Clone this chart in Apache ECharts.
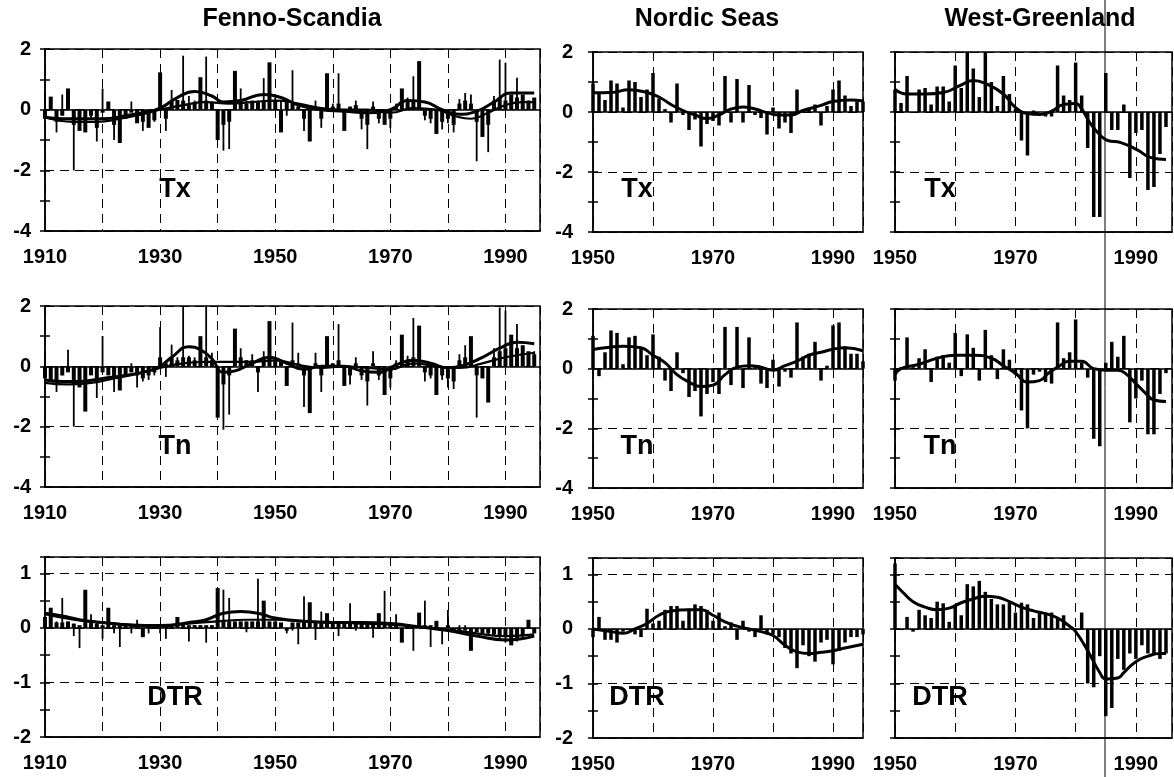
<!DOCTYPE html>
<html>
<head>
<meta charset="utf-8">
<script src="https://cdn.jsdelivr.net/npm/echarts@6/dist/echarts.min.js"></script>
<style>
  html, body { margin: 0; padding: 0; background: #fff; }
  #chart { width: 1174px; height: 777px; }
</style>
</head>
<body>
<div id="chart"></div>
<script>
// years on the x axes
const fennoYears = [];
for (let y = 1910; y <= 1995; y++) fennoYears.push(y);
const seaYears = [];
for (let y = 1950; y <= 1995; y++) seaYears.push(y);

// Fenno-Scandia, two overlaid bar series (thick / thin), 1910-1995
const fennoTxThick = [-0.3,0.43,-0.4,-0.2,0.7,-0.5,-0.7,-0.75,-0.2,-0.6,
  -0.1,0.27,-0.5,-1.1,-0.3,-0.1,-0.45,-0.4,-0.6,-0.35,
  1.23,-0.3,0.3,0.32,0.3,0.2,0.25,1.07,0.3,0.25,
  -1.0,-0.5,-0.4,1.28,0.3,0.2,0.3,0.25,0.3,1.56,
  0.3,-0.75,0.25,0.2,0.1,-0.3,-1.05,0.1,-0.3,1.2,
  0.1,0.2,-0.7,0.1,0.15,-0.3,-0.5,0.1,-0.3,-0.5,
  -0.3,0.1,0.7,0.25,0.3,1.6,-0.2,-0.3,-0.8,-0.4,
  -0.3,-0.5,0.2,0.3,0.2,-0.4,-0.9,-0.5,0.3,0.4,
  0.3,0.5,0.4,0.5,0.3,0.4];
const fennoTxThin = [0.57,0.4,-0.75,0.5,0.3,-2.0,-0.5,-0.4,-0.3,-1.05,
  0.7,0.15,-1.0,-0.6,-0.3,0.27,-0.3,-0.7,-0.55,-0.4,
  0.6,-0.7,0.65,0.2,1.78,0.45,0.3,0.5,1.75,0.2,
  -1.0,-1.35,-1.3,0.5,0.7,0.3,0.25,0.3,1.04,0.6,
  0.4,0.3,-0.2,1.3,0.2,-0.7,-0.5,0.3,-0.6,0.5,
  0.2,1.2,-0.3,0.1,0.3,-0.65,-1.3,0.27,-0.45,-0.3,
  -0.6,0.2,0.4,0.4,1.1,0.6,-0.35,-0.45,-0.4,-0.65,
  -0.45,-0.75,0.35,0.55,0.5,-1.7,-0.5,-1.4,0.45,1.65,
  1.55,0.4,1.05,0.3,0.3,0.2];
const fennoTnThick = [-0.4,-0.5,-0.5,-0.3,-0.2,-0.6,-0.7,-1.5,-0.3,-0.5,
  -0.2,-0.3,-0.4,-0.8,-0.3,-0.2,-0.3,-0.4,-0.3,-0.2,
  0.3,0.1,0.3,0.2,0.3,0.3,0.2,1.0,0.3,0.2,
  -1.7,-0.6,-0.3,1.25,0.3,0.2,0.2,-0.2,0.3,1.5,
  0.2,0.15,-0.65,0.2,0.1,-0.3,-1.55,0.1,-0.3,1.0,
  0.1,0.2,-0.65,-0.3,0.1,-0.3,-0.5,0.1,-0.3,-0.95,
  -0.4,0.1,1.05,0.2,0.3,1.35,-0.2,-0.3,-0.95,-0.3,
  -0.4,-0.5,0.2,0.3,1.0,-0.3,-0.4,-1.2,0.3,0.5,
  0.6,1.05,0.6,0.7,0.5,0.4];
const fennoTnThin = [0.35,-0.3,-0.85,-0.3,0.55,-2.0,-0.3,-0.6,-0.25,-1.05,
  1.0,-0.15,-0.85,-0.4,-0.2,0.1,-0.7,-0.5,-0.45,-0.3,
  1.3,-0.35,0.72,0.3,2.0,0.35,0.3,0.4,2.0,0.45,
  -0.8,-2.1,-1.6,0.4,0.6,0.2,0.4,-0.85,0.5,0.4,
  0.3,0.2,-0.3,1.45,0.45,-1.35,-0.5,0.45,-0.85,0.3,
  0.1,1.4,-0.3,-0.6,0.3,-0.45,-1.3,0.5,-0.45,-0.4,
  -0.7,0.2,0.4,0.35,1.6,0.5,-0.5,-0.4,-0.5,-0.45,
  -0.7,-0.75,0.4,0.7,0.5,-1.7,-0.3,-0.5,0.6,1.95,
  1.85,0.5,1.4,0.5,0.3,0.5];
const fennoDtrThick = [0.2,0.37,0.1,0.1,0.12,0.08,0.05,0.7,0.1,0.08,
  0.05,0.37,0.05,0.05,0.05,0.03,0.05,-0.17,0.05,0.03,
  0.05,0.03,0.05,0.2,0.05,0.05,0.05,0.05,0.05,0.05,
  0.73,0.15,0.12,0.12,0.12,0.12,0.12,0.12,0.5,0.12,
  0.12,0.1,-0.05,0.1,0.1,0.1,0.47,0.1,0.1,0.27,
  0.1,0.1,0.1,0.1,0.1,0.1,0.1,0.1,0.27,0.1,
  0.1,0.05,-0.27,0.05,0.05,0.28,0.05,0.05,0.13,0.0,
  0.05,-0.05,-0.05,-0.05,-0.42,-0.08,-0.1,-0.1,-0.12,-0.15,
  -0.15,-0.32,-0.2,-0.15,0.15,-0.1];
const fennoDtrThin = [0.3,0.12,0.12,0.55,0.1,-0.15,-0.37,0.15,0.25,0.1,
  -0.2,0.1,-0.1,-0.35,0.05,-0.1,0.15,-0.05,-0.1,0.05,
  -0.1,-0.2,0.05,0.05,0.05,-0.25,0.05,0.05,-0.27,0.05,
  0.3,0.7,0.55,0.1,0.05,-0.08,0.1,0.9,0.15,0.1,
  0.1,0.05,-0.1,-0.05,-0.3,0.58,0.1,-0.22,0.3,0.1,
  0.1,-0.15,0.1,0.45,-0.05,0.05,0.05,-0.18,0.1,0.68,
  0.05,0.25,-0.1,0.05,-0.42,0.1,0.5,-0.35,0.05,-0.3,
  0.33,-0.05,0.05,0.05,-0.15,-0.05,-0.1,-0.12,-0.15,-0.2,
  -0.27,-0.15,-0.25,-0.2,0.05,-0.05];

// Nordic Seas, 1950-1995
const nordicTx = [0.95,0.6,0.4,1.05,0.95,0.15,1.05,1.0,0.5,0.75,
  1.3,0.45,0.1,-0.35,0.95,-0.1,-0.6,-0.25,-1.15,-0.4,
  -0.3,-0.45,1.2,-0.35,1.1,-0.35,0.9,-0.1,-0.2,-0.75,
  0.15,-0.55,-0.35,-0.7,0.75,0.02,0.1,0.25,-0.45,0.2,
  0.75,1.05,0.55,0.2,0.35,0.35];
const nordicTn = [1.1,-0.25,0.55,1.28,1.2,0.15,1.05,1.1,0.7,0.45,
  1.15,0.4,-0.4,-0.75,0.55,-0.15,-0.95,-0.75,-1.6,-0.85,
  -0.45,-0.85,1.4,-0.55,1.4,-0.65,1.05,0.05,-0.5,-0.65,
  0.3,-0.6,-0.1,-0.3,1.55,0.4,0.5,0.9,-0.4,0.1,
  1.45,1.55,0.75,0.5,0.5,0.25];
const nordicDtr = [-0.15,0.22,-0.2,-0.2,-0.25,-0.05,-0.02,-0.1,-0.15,0.37,
  0.1,0.15,0.35,0.42,0.42,0.15,0.37,0.45,0.42,0.35,
  0.15,0.3,0.05,0.12,-0.2,0.15,-0.05,-0.15,0.25,-0.1,
  -0.1,-0.15,-0.35,-0.45,-0.72,-0.3,-0.5,-0.6,-0.25,-0.2,
  -0.65,-0.4,-0.25,-0.15,-0.15,-0.1];

// West-Greenland, 1950-1995
const greenTx = [0.75,0.3,1.2,0.0,0.75,0.8,0.25,0.85,0.85,0.35,
  1.55,0.8,2.0,1.45,0.5,2.0,1.0,0.2,1.2,0.6,
  0.1,-0.95,-1.45,0.05,0.0,-0.15,-0.15,1.55,0.55,0.4,
  1.65,0.55,-1.2,-3.5,-3.5,1.3,-0.6,-0.6,0.25,-2.2,
  -0.7,-0.6,-2.6,-2.5,-1.4,-0.5];
const greenTn = [-0.4,0.05,1.05,0.05,0.35,0.65,-0.45,0.4,0.45,0.2,
  1.2,-0.25,1.15,0.7,-0.4,1.3,0.45,-0.35,0.65,0.3,
  -0.2,-1.4,-2.0,-0.2,-0.1,-0.45,-0.5,1.55,0.35,0.55,
  1.65,0.2,-0.3,-2.35,-2.6,0.2,0.9,0.4,1.1,-1.8,
  -1.0,-0.4,-2.2,-2.2,-0.85,-0.15];
const greenDtr = [1.2,0.0,0.22,-0.05,0.35,0.25,0.2,0.5,0.47,0.13,
  0.42,0.25,0.82,0.78,0.88,0.68,0.55,0.45,0.45,0.48,
  0.3,0.48,0.45,0.2,0.32,0.3,0.3,0.2,0.25,0.0,
  -0.02,0.3,-1.0,-1.07,-0.5,-1.6,-1.45,-0.55,-0.75,-0.45,
  -0.55,-0.3,-0.45,-0.45,-0.55,-0.45];

// smoothed curves [year, value]
const fennoTxCurveA = [[1910,-0.25],[1913,-0.3],[1916,-0.3],[1920,-0.3],[1924,-0.2],[1927,-0.1],[1930,0.05],[1933,0.4],[1936,0.6],[1939,0.45],[1941,0.25],[1944,0.3],[1948,0.5],[1951,0.4],[1954,0.15],[1958,0.0],[1962,-0.05],[1966,-0.1],[1970,0.0],[1973,0.3],[1976,0.25],[1979,0.0],[1982,-0.15],[1985,-0.05],[1988,0.25],[1991,0.55],[1995,0.55]];
const fennoTxCurveB = [[1910,-0.25],[1915,-0.4],[1919,-0.4],[1923,-0.3],[1927,-0.15],[1930,0.0],[1934,0.15],[1938,0.25],[1942,0.2],[1946,0.25],[1950,0.3],[1954,0.2],[1958,0.05],[1962,0.0],[1966,0.0],[1970,-0.1],[1974,0.05],[1978,0.0],[1981,-0.2],[1984,-0.3],[1987,-0.1],[1990,0.15],[1993,0.25],[1995,0.25]];
const fennoTnCurveA = [[1910,-0.45],[1913,-0.5],[1916,-0.5],[1920,-0.4],[1924,-0.3],[1928,-0.15],[1930,0.0],[1932,0.3],[1935,0.65],[1937,0.55],[1939,0.25],[1941,-0.2],[1943,-0.15],[1946,0.1],[1949,0.3],[1952,0.1],[1955,-0.1],[1958,0.0],[1962,0.0],[1965,-0.15],[1968,-0.2],[1971,0.05],[1974,0.2],[1977,0.1],[1980,-0.05],[1983,0.05],[1986,0.3],[1989,0.6],[1992,0.8],[1995,0.75]];
const fennoTnCurveB = [[1910,-0.55],[1914,-0.6],[1918,-0.55],[1922,-0.4],[1926,-0.25],[1930,-0.05],[1934,0.1],[1938,0.15],[1942,0.15],[1946,0.15],[1950,0.2],[1954,0.05],[1958,-0.05],[1962,0.0],[1966,-0.05],[1970,-0.1],[1974,0.1],[1978,0.0],[1982,-0.05],[1986,0.1],[1990,0.3],[1995,0.45]];
const fennoDtrCurveA = [[1910,0.27],[1913,0.22],[1916,0.15],[1920,0.1],[1925,0.05],[1930,0.03],[1935,0.1],[1938,0.15],[1941,0.27],[1944,0.3],[1947,0.27],[1950,0.18],[1955,0.12],[1960,0.1],[1965,0.1],[1970,0.08],[1975,0.02],[1980,-0.05],[1985,-0.15],[1990,-0.22],[1995,-0.15]];
const fennoDtrCurveB = [[1910,0.25],[1915,0.15],[1920,0.1],[1925,0.06],[1930,0.05],[1935,0.08],[1940,0.12],[1945,0.15],[1950,0.15],[1955,0.12],[1960,0.1],[1965,0.08],[1970,0.06],[1975,0.02],[1980,-0.03],[1985,-0.1],[1990,-0.15],[1995,-0.12]];
const nordicTxCurve = [[1950,0.64],[1953,0.65],[1956,0.74],[1959,0.65],[1961,0.5],[1963,0.25],[1965,0.05],[1967,-0.1],[1969,-0.22],[1971,-0.1],[1973,0.1],[1975,0.17],[1977,0.1],[1979,-0.02],[1981,-0.1],[1983,-0.1],[1985,0.05],[1988,0.22],[1990,0.35],[1993,0.4],[1995,0.37]];
const nordicTnCurve = [[1950,0.64],[1952,0.7],[1955,0.75],[1958,0.7],[1960,0.45],[1962,0.2],[1964,-0.2],[1966,-0.45],[1968,-0.6],[1970,-0.55],[1972,-0.2],[1974,0.05],[1976,0.1],[1978,0.05],[1980,-0.05],[1982,0.1],[1984,0.25],[1986,0.45],[1988,0.55],[1990,0.65],[1992,0.7],[1995,0.6]];
const nordicDtrCurve = [[1950,0.0],[1953,-0.05],[1955,-0.08],[1957,0.0],[1959,0.1],[1961,0.25],[1963,0.33],[1966,0.35],[1968,0.35],[1970,0.25],[1972,0.13],[1974,0.05],[1976,0.0],[1978,-0.05],[1980,-0.12],[1982,-0.3],[1984,-0.42],[1986,-0.45],[1988,-0.43],[1990,-0.4],[1992,-0.35],[1995,-0.28]];
const greenTxCurve = [[1950,0.75],[1952,0.6],[1955,0.6],[1958,0.65],[1961,0.9],[1963,1.05],[1965,0.95],[1968,0.6],[1970,0.15],[1972,-0.05],[1974,-0.08],[1976,0.03],[1978,0.25],[1980,0.28],[1981,0.1],[1982.5,-0.4],[1984.2,-0.8],[1985.3,-0.95],[1987.5,-1.02],[1990.3,-1.27],[1992.5,-1.52],[1995,-1.58]];
const greenTnCurve = [[1950,-0.2],[1951,0.0],[1954,0.15],[1957,0.35],[1960,0.45],[1963,0.45],[1966,0.35],[1968,0.1],[1970,-0.15],[1972,-0.45],[1974,-0.4],[1975.5,-0.15],[1977,0.05],[1979,0.25],[1981,0.25],[1983,0.0],[1985,-0.05],[1987,-0.05],[1988.5,-0.2],[1990,-0.5],[1991.5,-0.8],[1993,-1.05],[1995,-1.1]];
const greenDtrCurve = [[1950,0.82],[1951.5,0.65],[1953,0.5],[1955,0.4],[1957,0.35],[1959,0.38],[1961,0.48],[1963,0.55],[1965,0.6],[1967,0.58],[1969,0.5],[1971,0.4],[1973,0.33],[1975,0.28],[1977,0.2],[1979,0.05],[1980,-0.05],[1982,-0.4],[1984,-0.8],[1985,-0.92],[1987,-0.9],[1988,-0.8],[1990,-0.6],[1992,-0.5],[1994,-0.45],[1995,-0.45]];

const columnTitles = ['Fenno-Scandia', 'Nordic Seas', 'West-Greenland'];
const rowNames = ['Tx', 'Tn', 'DTR'];

// layout (pixels)
const FONT = '"Liberation Sans", Arial, Helvetica, sans-serif';
const colLeft = [45, 593, 895];
const colWidth = [495, 270, 277];
const rowTop = [[49, 306, 557], [52, 309, 558], [52, 309, 558]];
const rowHeight = [[182, 181, 180], [180, 179, 180], [180, 179, 180]];
const xRange = [[1910, 1996], [1950, 1995], [1950, 1996]];
const yRange = [[-4, 2, 2], [-4, 2, 2], [-2, 1.3, 1]];
const titleX = [292, 707, 1040];
const nameX = [175, 637, 940];
const nameY = [190, 447, 698];

const pair = (years, vals) => years.map((y, i) => [y, vals[i]]);

const panels = [
  { col: 0, row: 0, years: fennoYears, bars: [fennoTxThick, fennoTxThin], curves: [fennoTxCurveA, fennoTxCurveB] },
  { col: 0, row: 1, years: fennoYears, bars: [fennoTnThick, fennoTnThin], curves: [fennoTnCurveA, fennoTnCurveB] },
  { col: 0, row: 2, years: fennoYears, bars: [fennoDtrThick, fennoDtrThin], curves: [fennoDtrCurveA, fennoDtrCurveB] },
  { col: 1, row: 0, years: seaYears, bars: [nordicTx], curves: [nordicTxCurve] },
  { col: 1, row: 1, years: seaYears, bars: [nordicTn], curves: [nordicTnCurve] },
  { col: 1, row: 2, years: seaYears, bars: [nordicDtr], curves: [nordicDtrCurve] },
  { col: 2, row: 0, years: seaYears, bars: [greenTx], curves: [greenTxCurve] },
  { col: 2, row: 1, years: seaYears, bars: [greenTn], curves: [greenTnCurve] },
  { col: 2, row: 2, years: seaYears, bars: [greenDtr], curves: [greenDtrCurve] }
];

const labelFont = { color: '#000', fontFamily: FONT, fontWeight: 'bold', fontSize: 20 };
const dash = { color: '#000', type: [9, 6], width: 1 };
const tickStyle = { color: '#000', width: 1.5 };

const grid = [], xAxis = [], yAxis = [], series = [];
panels.forEach((p, k) => {
  grid.push({
    left: colLeft[p.col], top: rowTop[p.col][p.row],
    width: colWidth[p.col], height: rowHeight[p.col][p.row],
    show: true, borderColor: '#000', borderWidth: 1.5
  });
  const xmin = xRange[p.col][0], xmax = xRange[p.col][1];
  const xi = xAxis.length;
  xAxis.push({
    type: 'value', gridIndex: k, min: xmin, max: xmax, interval: 10,
    axisLine: { show: true, onZero: false, lineStyle: { color: '#000', width: 1.5 } },
    axisTick: { show: false },
    axisLabel: Object.assign({ margin: 16, showMinLabel: true, showMaxLabel: false,
      formatter: v => ((v - xmin) % 20 === 0 ? String(v) : '') }, labelFont),
    splitLine: { show: true, lineStyle: dash }
  });
  let xThin = xi;
  if (p.bars.length > 1) {
    xThin = xAxis.length;
    xAxis.push({ type: 'value', gridIndex: k, min: xmin, max: xmax, show: false, splitLine: { show: false } });
  }
  const yr = yRange[p.row];
  const yi = yAxis.length;
  yAxis.push({
    type: 'value', gridIndex: k, min: yr[0], max: yr[1], interval: yr[2], position: 'left',
    axisLine: { show: true, lineStyle: { color: '#000', width: 1.5 } },
    axisTick: { show: true, length: 5, lineStyle: tickStyle },
    minorTick: { show: true, splitNumber: 2, length: 5, lineStyle: tickStyle },
    axisLabel: Object.assign({ show: p.col < 2, margin: p.col === 0 ? 14 : 20,
      showMaxLabel: true, formatter: v => (Number.isInteger(v) ? String(v) : '') }, labelFont),
    splitLine: { show: true, lineStyle: dash },
    minorSplitLine: { show: false }
  });
  // inner half of the ticks, so they cross the axis line
  yAxis.push({
    type: 'value', gridIndex: k, min: yr[0], max: yr[1], interval: yr[2], position: 'left',
    axisLine: { show: false },
    axisTick: { show: true, inside: true, length: 5, lineStyle: tickStyle },
    minorTick: { show: true, splitNumber: 2, length: 5, lineStyle: tickStyle },
    axisLabel: { show: false }, splitLine: { show: false }
  });
  series.push({
    type: 'bar', xAxisIndex: xi, yAxisIndex: yi,
    data: pair(p.years, p.bars[0]),
    barWidth: p.bars.length > 1 ? 4 : 3.5,
    itemStyle: { color: '#000' }, silent: true,
    markLine: {
      silent: true, symbol: ['none', 'none'], label: { show: false },
      lineStyle: { color: '#000', type: 'solid', width: 1.5 },
      data: [{ yAxis: 0 }]
    }
  });
  if (p.bars.length > 1) {
    series.push({
      type: 'bar', xAxisIndex: xThin, yAxisIndex: yi,
      data: pair(p.years, p.bars[1]),
      barWidth: 1.8, itemStyle: { color: '#000' }, silent: true
    });
  }
  p.curves.forEach((c, j) => {
    series.push({
      type: 'line', xAxisIndex: xi, yAxisIndex: yi, data: c,
      smooth: 0.5, symbol: 'none', silent: true, z: 5,
      lineStyle: { color: '#000', width: j === 0 ? 3 : 2.2 }
    });
  });
});

const graphic = [];
columnTitles.forEach((t, c) => {
  graphic.push({ type: 'text', x: titleX[c], y: 19,
    style: { text: t, fill: '#000', font: 'bold 25px ' + FONT, textAlign: 'center', textVerticalAlign: 'middle' } });
});
for (let c = 0; c < 3; c++) {
  rowNames.forEach((n, r) => {
    graphic.push({ type: 'text', x: nameX[c], y: nameY[r],
      style: { text: n, fill: '#000', font: 'bold 27px ' + FONT, textAlign: 'center', textVerticalAlign: 'middle' } });
  });
}
// thin vertical scan line through the right column
graphic.push({ type: 'line', shape: { x1: 1105, y1: 0, x2: 1105, y2: 777 }, style: { stroke: '#000', lineWidth: 1 } });

const chart = echarts.init(document.getElementById('chart'));
chart.setOption({
  animation: false,
  backgroundColor: '#fff',
  grid: grid,
  xAxis: xAxis,
  yAxis: yAxis,
  series: series,
  graphic: graphic
});
</script>
</body>
</html>
